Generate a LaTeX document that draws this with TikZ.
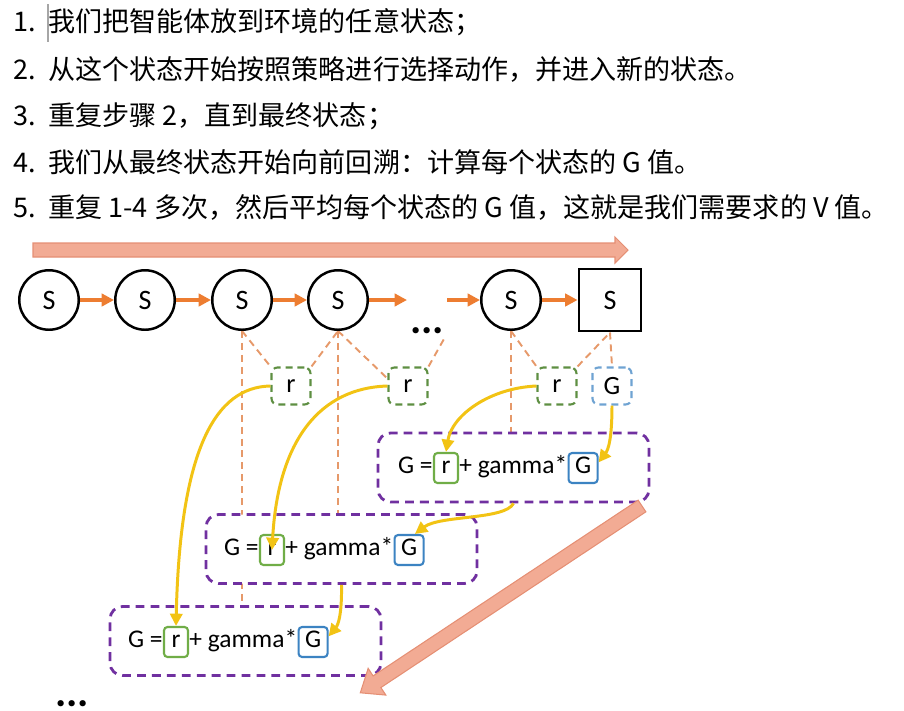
\documentclass[tikz,border=0pt]{standalone}
\usepackage{fontspec}
\setmainfont{Carlito}
\newfontfamily\cjk{Noto Sans CJK SC}
\usetikzlibrary{arrows.meta,positioning,backgrounds}
\definecolor{walkor}{HTML}{ED7D31}
\definecolor{linkor}{HTML}{E6996A}
\definecolor{fatfill}{HTML}{F2AB94}
\definecolor{fatline}{HTML}{E58F74}
\definecolor{rgreen}{HTML}{5E8F42}
\definecolor{rsgreen}{HTML}{70AD47}
\definecolor{gdblue}{HTML}{6FA3D2}
\definecolor{gsblue}{HTML}{3C83C2}
\definecolor{boxpur}{HTML}{7030A0}
\definecolor{backyel}{HTML}{F2C314}

\begin{document}
\begin{tikzpicture}[x = 0.02cm, y = -0.02cm,
  state/.style = {draw, circle, line width = 1.4pt, minimum size = 1.19cm, inner sep = 0pt, font = \fontsize{16}{18}\selectfont},
  term/.style = {draw, rectangle, line width = 1.4pt, minimum size = 1.25cm, inner sep = 0pt, font = \fontsize{16}{18}\selectfont},
  rdash/.style = {draw = rgreen, dash pattern = on 4pt off 2.8pt, line width = 1.2pt, rounded corners = 0.12cm, minimum width = 0.78cm, minimum height = 0.74cm, font = \fontsize{15}{18}\selectfont},
  gdash/.style = {rdash, draw = gdblue},
  eqbox/.style = {draw = boxpur, fill = white, dash pattern = on 5pt off 3.5pt, line width = 1.6pt, rounded corners = 0.25cm, minimum width = 5.42cm, minimum height = 1.38cm},
  eqtxt/.style = {inner sep = 0pt, text height = 0.68em, text depth = 0.1em, font = \fontsize{14.5}{17}\selectfont},
  rsolid/.style = {eqtxt, draw = rsgreen, line width = 1.2pt, rounded corners = 0.07cm, minimum width = 0.48cm, minimum height = 0.6cm},
  gsolid/.style = {rsolid, draw = gsblue, minimum width = 0.58cm},
  walk/.style = {draw = walkor, line width = 2pt, -{Triangle[length = 7pt, width = 7pt]}},
  link/.style = {draw = linkor, line width = 1.1pt, dash pattern = on 4pt off 2.8pt},
  back/.style = {draw = backyel, line width = 1.7pt, -{Triangle[length = 7pt, width = 7pt]}},
  fat/.style = {draw = fatline, fill = fatfill, line width = 0.6pt},
  item/.style = {font = \cjk\fontsize{15.4}{18}\selectfont, inner sep = 0pt, anchor = base west}
]
\useasboundingbox (0,0) rectangle (904,711);

% the five steps
\node[item] (n1) at (13,31) {1.};
\node[item] (t1) at (48,31) {我们把智能体放到环境的任意状态；};
\node[item] (n2) at (13,79) {2.};
\node[item] (t2) at (48,79) {从这个状态开始按照策略进行选择动作，并进入新的状态。};
\node[item] (n3) at (13,125) {3.};
\node[item] (t3) at (48,125) {重复步骤 2，直到最终状态；};
\node[item] (n4) at (13,172) {4.};
\node[item] (t4) at (48,172) {我们从最终状态开始向前回溯：计算每个状态的 G 值。};
\node[item] (n5) at (13,217) {5.};
\node[item] (t5) at (48,217) {重复 1-4 多次，然后平均每个状态的 G 值，这就是我们需要求的 V 值。};
\draw[gray!70, line width = 0.7pt] (48,4) -- (48,42);

% forward pass
\draw[fat] (33,243) -- (615,243) -- (615,237) -- (628,250) -- (615,263) -- (615,257) -- (33,257) -- cycle;

\node[state] (s1) at (49,300) {S};
\node[state] (s2) at (145,300) {S};
\node[state] (s3) at (242,300) {S};
\node[state] (s4) at (338,300) {S};
\node[state] (s5) at (511,300) {S};
\node[term] (sT) at (610,300) {S};
\coordinate (gapL) at (407,300);
\coordinate (gapR) at (447,300);
\draw[walk] (s1) -- (s2);
\draw[walk] (s2) -- (s3);
\draw[walk] (s3) -- (s4);
\draw[walk] (s4) -- (gapL);
\draw[walk] (gapR) -- (s5);
\draw[walk] (s5) -- (sT);
\node[anchor = base, inner sep = 1pt, font = \fontsize{24}{24}\selectfont\bfseries] (dots1) at (427,333) {...};

\node[rdash] (r1) at (291,386) {r};
\node[rdash] (r2) at (408,386) {r};
\node[rdash] (r3) at (557,386) {r};
\node[gdash] (gd) at (612,386) {G};

% backward updates
\node[eqbox] (b1) at (513.5,467.5) {};
\node[rsolid] (rq1) at (446,468) {r};
\node[eqtxt, left = 0pt of rq1] (eq1) {G =};
\node[eqtxt, right = 0pt of rq1] (pl1) {+ gamma*};
\node[gsolid, right = 0pt of pl1] (gq1) {G};

\node[eqbox] (b2) at (341.5,549) {};
\node[rsolid] (rq2) at (272,550) {r};
\node[eqtxt, left = 0pt of rq2] (eq2) {G =};
\node[eqtxt, right = 0pt of rq2] (pl2) {+ gamma*};
\node[gsolid, right = 0pt of pl2] (gq2) {G};

\node[eqbox] (b3) at (245.5,641) {};
\node[rsolid] (rq3) at (176,642) {r};
\node[eqtxt, left = 0pt of rq3] (eq3) {G =};
\node[eqtxt, right = 0pt of rq3] (pl3) {+ gamma*};
\node[gsolid, right = 0pt of pl3] (gq3) {G};

\node[anchor = base, inner sep = 1pt, font = \fontsize{24}{24}\selectfont\bfseries] (dots2) at (72,706) {...};

\begin{scope}[on background layer]
\draw[link] (s3.south) -- (r1.north west);
\draw[link] (r1.north east) -- (s4.south);
\draw[link] (s4.south) -- (r2.160);
\draw[link] (r2.north east) -- (dots1.south east);
\draw[link] (s5.south) -- (r3.north west);
\draw[link] (r3.north east) -- (sT.south);
\draw[link] (sT.south) -- (gd.north);
\draw[link] (s3.south) -- (s3.south |- b3.north);
\draw[link] (s4.south) -- (s4.south |- b2.north);
\draw[link] (s5.south) -- (s5.south |- b1.north);
\end{scope}

\draw[back] (r1.west) .. controls (215,387) and (180,450) .. (rq3.north);
\draw[back] (r2.west) .. controls (320,388) and (278,440) .. (rq2.center);
\draw[back] (r3.west) .. controls (490,388) and (452,415) .. (rq1.north);
\draw[back] (gd.south) .. controls (612,440) and (608,450) .. (gq1.20);
\draw[back] (b1.south) .. controls (505,520) and (440,515) .. (gq2.70);
\draw[back] (b2.south) .. controls (342,615) and (338,625) .. (gq3.20);

\begin{scope}[shift = {(642,506)}, rotate = 213.55]
\draw[fat] (0,-7) -- (318,-7) -- (318,-16) -- (338,0) -- (318,16) -- (318,7) -- (0,7) -- cycle;
\end{scope}
\end{tikzpicture}
\end{document}
